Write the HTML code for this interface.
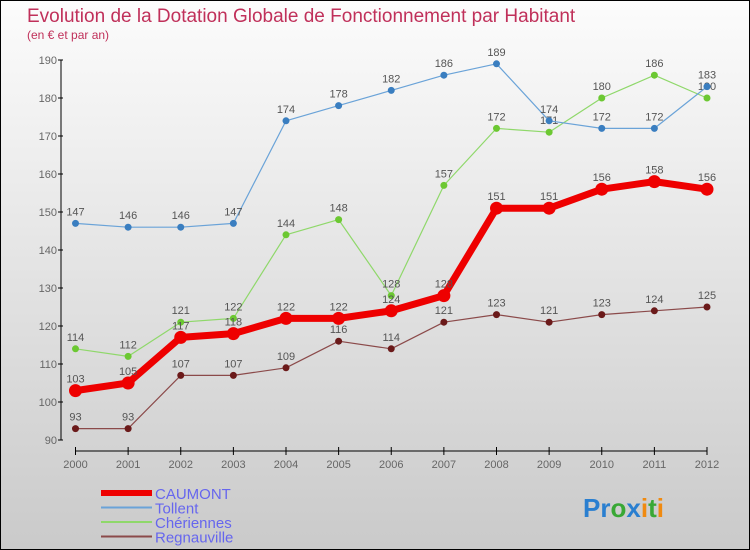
<!DOCTYPE html>
<html><head><meta charset="utf-8"><style>
html,body{margin:0;padding:0}
body{width:750px;height:550px;overflow:hidden;font-family:"Liberation Sans",sans-serif}
#wrap{position:relative;width:748px;height:548px;border:1px solid #000;background:linear-gradient(#fcfcfc,#cacaca)}
</style></head><body>
<div id="wrap">
<svg id="chart" width="748" height="548" style="position:absolute;left:0;top:0"></svg>
</div>
<script>
const years=["2000","2001","2002","2003","2004","2005","2006","2007","2008","2009","2010","2011","2012"];
const yTicks=[90,100,110,120,130,140,150,160,170,180,190];
const caumont=[103,105,117,118,122,122,124,128,151,151,156,158,156];
const tollent=[147,146,146,147,174,178,182,186,189,174,172,172,183];
const cheriennes=[114,112,121,122,144,148,128,157,172,171,180,186,180];
const regnauville=[93,93,107,107,109,116,114,121,123,121,123,124,125];
const NS="http://www.w3.org/2000/svg";
const svg=document.getElementById('chart');
function X(i){return 74.5+i*(706-74.5)/12;}
function Y(v){return 439-(v-90)*(439-59)/100;}
function el(t,a,p){const e=document.createElementNS(NS,t);for(const k in a)e.setAttribute(k,a[k]);(p||svg).appendChild(e);return e;}
function tx(x,y,s,c,size,anchor){const e=el('text',{x:x,y:y,fill:c,'font-size':size,'text-anchor':anchor||'middle'});e.textContent=s;return e;}
let t=tx(26,21,'Evolution de la Dotation Globale de Fonctionnement par Habitant','#c0305a',19,'start');


t=tx(26,38,'(en € et par an)','#c0305a',12,'start');


let a=el('line',{x1:60,y1:Y(190),x2:60,y2:Y(90),stroke:'#000','stroke-width':1});


a=el('line',{x1:X(0),y1:450,x2:X(12),y2:450,stroke:'#000','stroke-width':1});


yTicks.forEach(v=>{
 el('line',{x1:57,y1:Y(v),x2:62,y2:Y(v),stroke:'#000'});
 const l=tx(56,Y(v)+4,String(v),'#666',11,'end');
 
 
});
years.forEach((y,i)=>{
 el('line',{x1:X(i),y1:446,x2:X(i),y2:454,stroke:'#000'});
 const l=tx(X(i),467,y,'#666',11);
 
 
});
function series(data,color,w,r,dot,name){
 const g=el('g',{});
 
 
 el('polyline',{points:data.map((v,i)=>X(i)+','+Y(v)).join(' '),fill:'none',stroke:color,'stroke-width':w,'stroke-linejoin':'round'},g);
 data.forEach((v,i)=>{
  const c=el('circle',{cx:X(i),cy:Y(v),r:r,fill:dot},g);
  
  
  const l=tx(X(i),Y(v)-8,String(v),'#555',11);
  g.appendChild(l);
 });
}
series(regnauville,'#8b4a4a',1.2,3.5,'#6b1a1a','regnauville');
series(cheriennes,'#8fd86a',1.2,3.5,'#6cc832','cheriennes');
series(tollent,'#6aa3d8',1.2,3.5,'#3a7ec0','tollent');
series(caumont,'#ee0000',7,6.5,'#ee0000','caumont');
const leg=[['CAUMONT','#ee0000',6],['Tollent','#6aa3d8',2],['Chériennes','#8fd86a',2],['Regnauville','#8b4a4a',2]];
leg.forEach((d,i)=>{
 const g=el('g',{});
 
 
 const y=492+i*14.5;
 el('line',{x1:100,y1:y,x2:151,y2:y,stroke:d[1],'stroke-width':d[2]},g);
 const l=tx(154,y+6,d[0],'#6666ee',15,'start');g.appendChild(l);
});
const p=el('text',{x:582,y:516,'font-size':26,'font-weight':'bold'});


[['Pr','#2a7fd0'],['o','#39a835'],['x','#2a7fd0'],['i','#f08a10'],['t','#39a835'],['i','#f08a10']].forEach(s=>{const sp=el('tspan',{fill:s[1]},p);sp.textContent=s[0];});
</script>
</body></html>
